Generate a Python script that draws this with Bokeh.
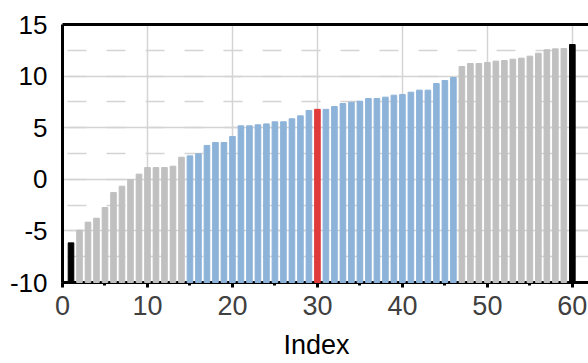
from bokeh.plotting import figure
from bokeh.models import (ColumnDataSource, LinearAxis, SingleIntervalTicker, Range1d, Title,
                          PrintfTickFormatter)
from bokeh.embed import file_html
from bokeh.resources import INLINE

# ---- data ----
index = list(range(1, 61))
values = [-6.16, -4.93, -4.15, -3.77, -2.73, -1.28, -0.67, -0.02, 0.50, 1.14,
          1.14, 1.14, 1.27, 2.14, 2.27, 2.47, 3.28, 3.57, 3.57, 4.15,
          5.18, 5.18, 5.28, 5.37, 5.57, 5.57, 5.86, 6.15, 6.67, 6.78,
          6.78, 7.05, 7.34, 7.47, 7.57, 7.83, 7.83, 7.96, 8.15, 8.22,
          8.44, 8.64, 8.64, 9.28, 9.57, 9.86, 10.93, 11.22, 11.22, 11.32,
          11.45, 11.51, 11.64, 11.74, 11.93, 12.22, 12.55, 12.64, 12.67, 13.06]
median_index = 30
middle_first, middle_last = 15, 46
x_ticks_interval = 10
y_ticks_interval = 5
x_label = "Index"

# ---- styling ----
C_OUTER = "#c0c0c0"
C_MID = "#8db3d9"
C_MED = "#e03a3a"
C_EXT = "#000000"
FONT = "Liberation Sans"

colors = []
for i in index:
    if i == index[0] or i == index[-1]:
        colors.append(C_EXT)
    elif i == median_index:
        colors.append(C_MED)
    elif middle_first <= i <= middle_last:
        colors.append(C_MID)
    else:
        colors.append(C_OUTER)

src = ColumnDataSource(dict(x=index, top=values, color=colors))

p = figure(output_backend="svg", toolbar_location=None,
           frame_width=526, frame_height=258,
           min_border_left=62, min_border_right=0, min_border_top=24, min_border_bottom=81,
           x_range=Range1d(0, 61.9), y_range=Range1d(-10, 15),
           x_axis_location=None, y_axis_location=None)
p.outline_line_color = None
p.background_fill_color = "white"
p.border_fill_color = "white"

r = p.vbar(x="x", top="top", bottom=-10, width=0.66, color="color", source=src)
r.level = "overlay"

# axes
xaxis = LinearAxis(ticker=SingleIntervalTicker(interval=x_ticks_interval, num_minor_ticks=2),
                   formatter=PrintfTickFormatter(format="%d"))
xaxis.axis_line_width = 3
xaxis.axis_line_color = "black"
xaxis.major_tick_line_width = 3
xaxis.major_tick_in = 0
xaxis.major_tick_out = 5
xaxis.minor_tick_line_width = 3
xaxis.minor_tick_in = 0
xaxis.minor_tick_out = 3
xaxis.major_label_text_font = FONT
xaxis.major_label_text_font_size = "27px"
xaxis.major_label_text_color = "#404040"
xaxis.major_label_standoff = 8
p.add_layout(xaxis, "below")

ttl = Title(text=x_label, align="left", offset=221, text_font=FONT,
            text_font_size="27px", text_font_style="normal", text_color="black",
            standoff=21)
p.add_layout(ttl, "below")

yaxis = LinearAxis(ticker=SingleIntervalTicker(interval=y_ticks_interval, num_minor_ticks=2),
                   formatter=PrintfTickFormatter(format="%d"))
yaxis.axis_line_width = 3
yaxis.axis_line_color = "black"
yaxis.major_tick_line_color = None
yaxis.minor_tick_line_color = None
yaxis.major_tick_out = 0
yaxis.major_tick_in = 0
yaxis.major_label_text_font = FONT
yaxis.major_label_text_font_size = "26px"
yaxis.major_label_text_color = "black"
yaxis.major_label_standoff = 11
p.add_layout(yaxis, "left")

top_axis = LinearAxis(ticker=SingleIntervalTicker(interval=x_ticks_interval))
top_axis.axis_line_width = 3
top_axis.axis_line_color = "black"
top_axis.major_tick_line_color = None
top_axis.minor_tick_line_color = None
top_axis.major_label_text_font_size = "0px"
top_axis.major_label_text_color = None
top_axis.major_tick_out = 0
top_axis.major_label_standoff = 0
p.add_layout(top_axis, "above")

# grids
p.xgrid.ticker = xaxis.ticker
p.ygrid.ticker = yaxis.ticker
p.xgrid.grid_line_color = "#d4d4d4"
p.xgrid.grid_line_width = 1.5
p.ygrid.grid_line_color = "#d4d4d4"
p.ygrid.grid_line_width = 1.5
p.ygrid.minor_grid_line_color = "#d4d4d4"
p.ygrid.minor_grid_line_width = 1.5
p.ygrid.minor_grid_line_dash = "19 20"
p.ygrid.minor_grid_line_dash_offset = -5

open("out.html", "w").write(file_html(p, INLINE))
